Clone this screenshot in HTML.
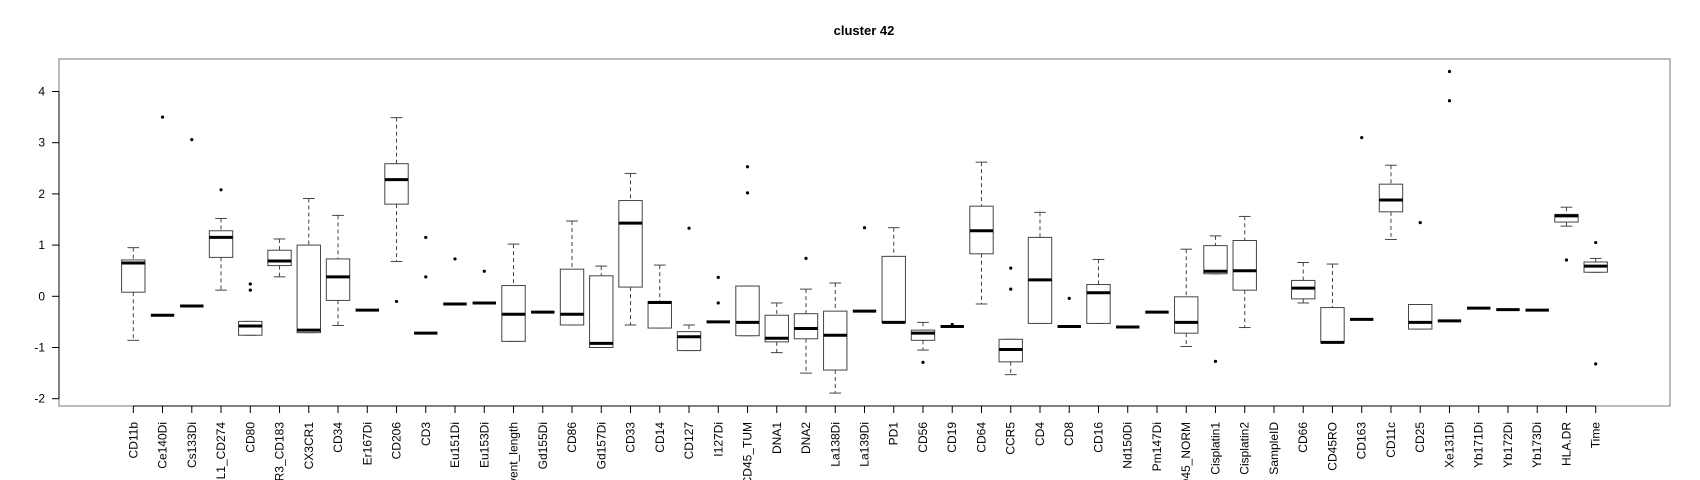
<!DOCTYPE html>
<html><head><meta charset="utf-8"><style>
html,body{margin:0;padding:0;background:#fff;width:1700px;height:480px;overflow:hidden}
svg{display:block;font-family:"Liberation Sans",Arial,sans-serif}
</style></head><body>
<svg id="chart" width="1700" height="480" viewBox="0 0 1700 480">
<text x="864" y="35" text-anchor="middle" font-size="13" font-weight="bold">cluster 42</text>
<rect x="59" y="59" width="1611" height="347" fill="none" stroke="#777" stroke-width="1"/>
<g id="yaxis"></g>
<g id="xaxis"></g>
<g id="boxes"></g>
</svg>
<script>
const categories=["CD11b","Ce140Di","Cs133Di","PD.L1_CD274","CD80","CXCR3_CD183","CX3CR1","CD34","Er167Di","CD206","CD3","Eu151Di","Eu153Di","Event_length","Gd155Di","CD86","Gd157Di","CD33","CD14","CD127","I127Di","CD45_TUM","DNA1","DNA2","La138Di","La139Di","PD1","CD56","CD19","CD64","CCR5","CD4","CD8","CD16","Nd150Di","Pm147Di","CD45_NORM","Cisplatin1","Cisplatin2","SampleID","CD66","CD45RO","CD163","CD11c","CD25","Xe131Di","Yb171Di","Yb172Di","Yb173Di","HLA.DR","Time"];
const whiskerLow=[-0.86,-0.37,-0.19,0.12,-0.76,0.38,-0.71,-0.57,-0.27,0.68,-0.72,-0.15,-0.13,-0.88,-0.31,-0.56,-1.0,-0.56,-0.62,-1.06,-0.50,-0.77,-1.10,-1.5,-1.89,-0.29,-0.51,-1.05,-0.59,-0.15,-1.53,-0.53,-0.59,-0.53,-0.60,-0.31,-0.98,0.44,-0.61,null,-0.13,-0.91,-0.45,1.11,-0.64,-0.48,-0.23,-0.26,-0.27,1.37,0.47];
const q1=[0.08,-0.37,-0.19,0.76,-0.76,0.60,-0.71,-0.08,-0.27,1.80,-0.72,-0.15,-0.13,-0.88,-0.31,-0.56,-1.0,0.18,-0.62,-1.06,-0.50,-0.77,-0.89,-0.83,-1.44,-0.29,-0.51,-0.86,-0.59,0.83,-1.28,-0.53,-0.59,-0.53,-0.60,-0.31,-0.72,0.44,0.12,null,-0.05,-0.91,-0.45,1.65,-0.64,-0.48,-0.23,-0.26,-0.27,1.45,0.47];
const medians=[0.65,-0.37,-0.19,1.15,-0.58,0.69,-0.66,0.38,-0.27,2.28,-0.72,-0.15,-0.13,-0.35,-0.31,-0.35,-0.92,1.43,-0.12,-0.79,-0.50,-0.51,-0.82,-0.63,-0.76,-0.29,-0.51,-0.72,-0.59,1.28,-1.04,0.32,-0.59,0.07,-0.60,-0.31,-0.51,0.49,0.50,null,0.16,-0.90,-0.45,1.88,-0.51,-0.48,-0.23,-0.26,-0.27,1.57,0.59];
const q3=[0.71,-0.37,-0.19,1.28,-0.49,0.90,1.0,0.73,-0.27,2.59,-0.72,-0.15,-0.13,0.21,-0.31,0.53,0.40,1.87,-0.10,-0.69,-0.50,0.20,-0.37,-0.34,-0.29,-0.29,0.78,-0.66,-0.59,1.76,-0.84,1.15,-0.59,0.23,-0.60,-0.31,-0.01,0.99,1.09,null,0.31,-0.22,-0.45,2.19,-0.16,-0.48,-0.23,-0.26,-0.27,1.60,0.67];
const whiskerHigh=[0.95,-0.37,-0.19,1.52,-0.49,1.12,1.91,1.58,-0.27,3.49,-0.72,-0.15,-0.13,1.02,-0.31,1.47,0.59,2.40,0.61,-0.56,-0.50,0.20,-0.13,0.14,0.26,-0.29,1.34,-0.51,-0.59,2.62,-0.84,1.64,-0.59,0.72,-0.60,-0.31,0.92,1.18,1.56,null,0.66,0.63,-0.45,2.56,-0.16,-0.48,-0.23,-0.26,-0.27,1.74,0.74];
const outliers=[[],[3.5],[3.06],[2.08],[0.24,0.12],[],[],[],[],[-0.1],[1.15,0.38],[0.73],[0.49],[],[],[],[],[],[],[1.33],[0.37,-0.13],[2.53,2.02],[],[0.74],[],[1.34],[],[-1.29],[-0.55],[],[0.55,0.14],[],[-0.04],[],[],[],[],[-1.27],[],[],[],[],[3.10],[],[1.44],[4.39,3.82],[],[],[],[0.71],[1.05,-1.32]];
const yTicks=[-2,-1,0,1,2,3,4];

const NS="http://www.w3.org/2000/svg";
const L=59,R=1670,T=59,B=406;
const n=categories.length;
const xmin=0.5-0.04*n, xmax=n+0.5+0.04*n;
function xs(i){return L+(i+1-xmin)/(xmax-xmin)*(R-L);}
function ys(v){return 296.3-v*51.2;}
function mk(tag,attrs,parent){const e=document.createElementNS(NS,tag);for(const k in attrs)e.setAttribute(k,attrs[k]);parent.appendChild(e);return e;}
const ya=document.getElementById('yaxis'),xa=document.getElementById('xaxis'),bx=document.getElementById('boxes');
let e=mk('line',{x1:L,x2:L,y1:ys(-2),y2:ys(4),stroke:'#000'},ya);


yTicks.forEach(t=>{
 let tk=mk('line',{x1:L-7,x2:L,y1:ys(t),y2:ys(t),stroke:'#000'},ya);
 
 
 let tx=mk('text',{x:L-14,y:ys(t)+4,'text-anchor':'end','font-size':12},ya);
 tx.textContent=t;
 
 
});
e=mk('line',{x1:xs(0),x2:xs(n-1),y1:B,y2:B,stroke:'#000'},xa);


categories.forEach((c,i)=>{
 const x=xs(i);
 let tk=mk('line',{x1:x,x2:x,y1:B,y2:B+7,stroke:'#000'},xa);
 
 
 let tx=mk('text',{x:0,y:0,'text-anchor':'end','font-size':12,transform:`translate(${x+4},${B+16}) rotate(-90)`},xa);
 tx.textContent=c;
 
 
 const g=mk('g',{},bx);
 
 
 const hw=11.7;
 if(medians[i]!==null){
  mk('line',{x1:x,x2:x,y1:ys(whiskerHigh[i]),y2:ys(q3[i]),stroke:'#444','stroke-dasharray':'4,3'},g);
  mk('line',{x1:x,x2:x,y1:ys(q1[i]),y2:ys(whiskerLow[i]),stroke:'#444','stroke-dasharray':'4,3'},g);
  mk('line',{x1:x-hw/2,x2:x+hw/2,y1:ys(whiskerHigh[i]),y2:ys(whiskerHigh[i]),stroke:'#444'},g);
  mk('line',{x1:x-hw/2,x2:x+hw/2,y1:ys(whiskerLow[i]),y2:ys(whiskerLow[i]),stroke:'#444'},g);
  mk('rect',{x:x-hw,y:ys(q3[i]),width:2*hw,height:Math.max(0,ys(q1[i])-ys(q3[i])),fill:'#fff',stroke:'#444'},g);
  mk('line',{x1:x-hw,x2:x+hw,y1:ys(medians[i]),y2:ys(medians[i]),stroke:'#000','stroke-width':3},g);
 }
 outliers[i].forEach(v=>{
  let p=mk('circle',{cx:x,cy:ys(v),r:1.6,fill:'#000'},g);
  
  
 });
});
</script>
</body></html>
